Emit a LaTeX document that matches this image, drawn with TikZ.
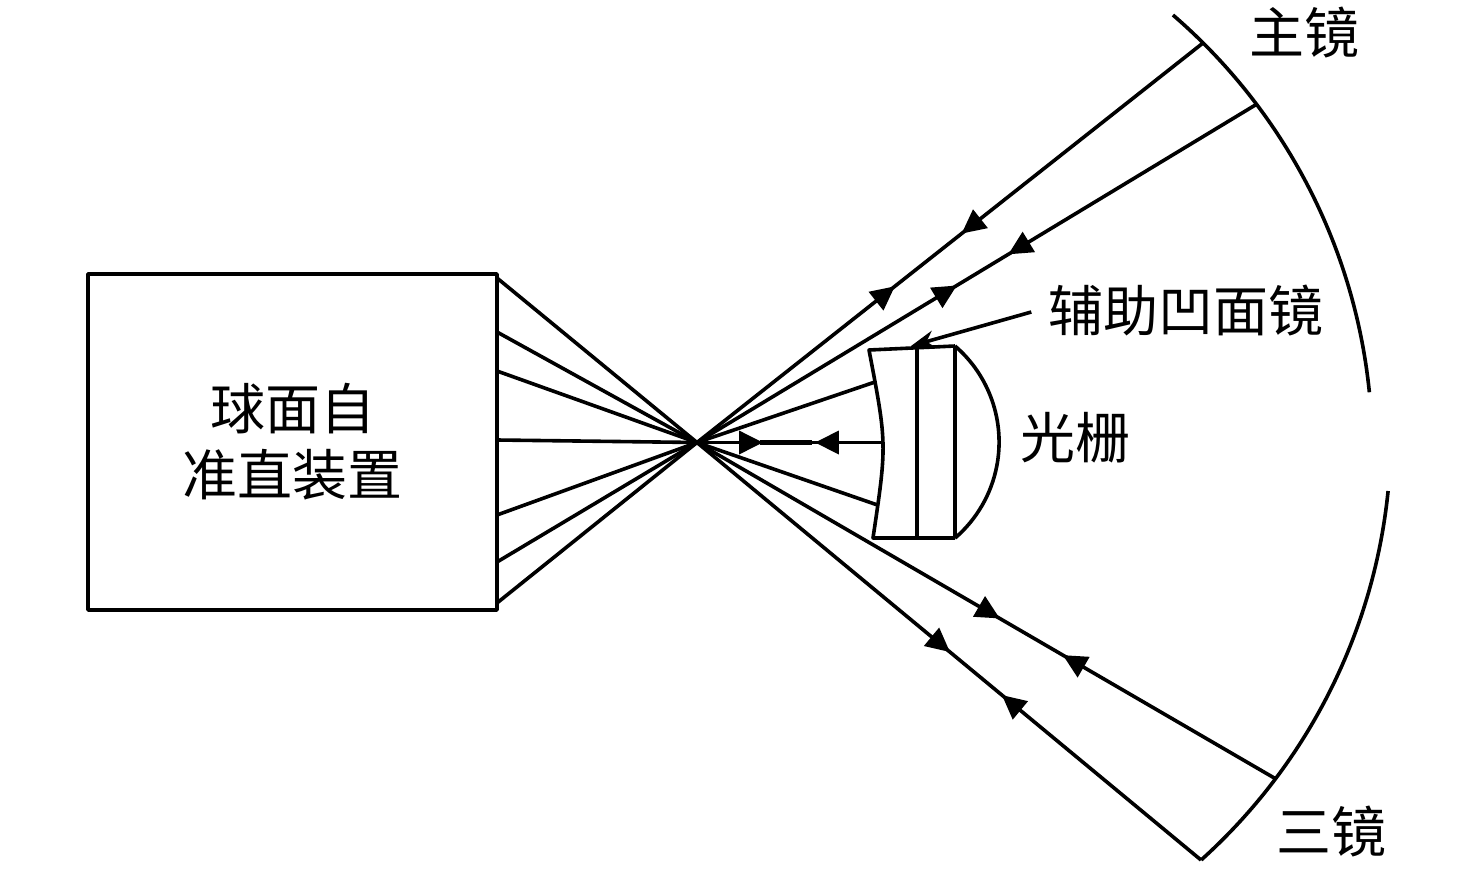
\documentclass[tikz,border=0pt]{standalone}
\usepackage{fontspec}
\newfontfamily\cjk{Noto Sans CJK SC}
\usetikzlibrary{arrows.meta,decorations.markings,calc}
\tikzset{
  ln/.style={line width=3.6pt, line join=round},
  lbl/.style={font=\cjk\fontsize{55pt}{66pt}\selectfont, inner sep=0pt},
  tri/.tip={Triangle[length=24pt,width=23pt]},
  twoarr/.style 2 args={postaction={decorate}, decoration={markings,
     mark=at position #1 with {\arrow{tri}},
     mark=at position #2 with {\arrowreversed{tri}}}},
}
\begin{document}
\begin{tikzpicture}[x=1pt,y=1pt]
\useasboundingbox (0,0) rectangle (1476,-873);
% box
\node[ln, draw, lbl, align=center, minimum width=409pt, minimum height=336pt] (box) at (292.5,-442) {球面自\\准直装置};
% key points
\coordinate (F) at (697,-442.5);
\coordinate (b1) at (497,-278);
\coordinate (b2) at (497,-332);
\coordinate (b3) at (497,-371);
\coordinate (b4) at (497,-440);
\coordinate (b5) at (497,-515);
\coordinate (b6) at (497,-562);
\coordinate (b7) at (497,-603);
\coordinate (M1) at (1203,-43);
\coordinate (M2) at (1257,-104);
\coordinate (N1) at (1276,-779);
\coordinate (N2) at (1201,-860);
\coordinate (lt) at (869,-350);
\coordinate (lb) at (873,-538);
\coordinate (rt) at (955,-346);
\coordinate (rb) at (955,-538);
\coordinate (mt) at (917,-347);
\coordinate (mb) at (917,-538);
\coordinate (lc) at (883,-442.5);
\coordinate (lu) at (875,-382);
\coordinate (ld) at (877.5,-505);
% mirrors
\draw[ln] ([shift={(798,-450)}]49.24:574.3) arc[start angle=49.24, end angle=5.77, radius=574.3];
\draw[ln] ([shift={(817,-433.5)}]-5.75:574) arc[start angle=-5.75, end angle=-47.99, radius=574];
% lens
\draw[ln] (rt) -- (lt) .. controls (887,-444) .. (lb) -- (rb);
\draw[ln] (mt) -- (mb);
\draw[ln] (rt) -- (rb);
\draw[ln] (rt) arc[start angle=49.3, end angle=-49.3, radius=126.7];
% rays
\draw[ln] (b1) -- (F);
\draw[ln] (b2) -- (F);
\draw[ln] (b3) -- (F) -- (ld);
\draw[ln] (b4) -- (F);
\draw[ln] (b5) -- (F) -- (lu);
\draw[ln] (b6) -- (F);
\draw[ln] (b7) -- (F);
\draw[ln, twoarr={0.391}{0.523}] (F) -- (M1);
\draw[ln, twoarr={0.464}{0.556}] (F) -- (M2);
\draw[ln, twoarr={0.523}{0.632}] (F) -- (N1);
\draw[ln, twoarr={0.502}{0.605}] (F) -- (N2);
\draw[ln, twoarr={0.355}{0.634}] (F) -- (lc);
\draw[line width=5.5pt] ($(F)!0.34!(lc)$) -- ($(F)!0.62!(lc)$);
% labels
\node[lbl] (lzhu) at (1304,-33) {主镜};
\node[lbl] (lsan) at (1331,-832) {三镜};
\node[lbl] (lfz) at (1186,-311) {辅助凹面镜};
\node[lbl] (lgs) at (1075,-438) {光栅};
\coordinate (ptip) at (911,-346);
\draw[ln, -{Stealth[length=24pt,width=18pt]}] ([xshift=-17pt,yshift=-1pt]lfz.west) -- (ptip);
\end{tikzpicture}
\end{document}
